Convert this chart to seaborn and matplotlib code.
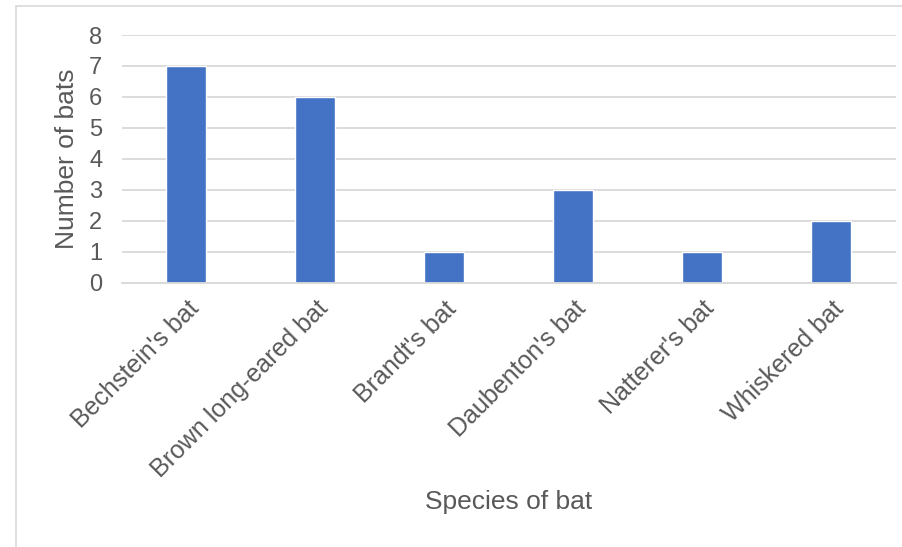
import matplotlib
matplotlib.use("Agg")
import matplotlib.pyplot as plt
import seaborn as sns
import pandas as pd
from matplotlib.lines import Line2D

species = ["Bechstein's bat", "Brown long-eared bat", "Brandt's bat",
           "Daubenton's bat", "Natterer's bat", "Whiskered bat"]
counts = [7, 6, 1, 3, 1, 2]
y_ticks = [0, 1, 2, 3, 4, 5, 6, 7, 8]

df = pd.DataFrame({"species": species, "count": counts})

sns.set_theme(style="white")
plt.rcParams["font.family"] = ["Liberation Sans", "DejaVu Sans"]

text_color = "#595959"
grid_color = "#D9D9D9"

fig = plt.figure(figsize=(9.03, 5.47), dpi=100)
ax = fig.add_axes([0.135, 0.483, 0.857, 0.453])

sns.barplot(data=df, x="species", y="count", color="#4472C4",
            width=0.31, saturation=1, ax=ax, zorder=3)

ax.set_ylim(0, 8)
ax.set_yticks(y_ticks)
ax.set_xlim(-0.5, len(species) - 0.5)
ax.yaxis.grid(True, color=grid_color, linewidth=1.3, zorder=0)
ax.set_axisbelow(True)
for side in ["top", "right", "left"]:
    ax.spines[side].set_visible(False)
ax.spines["bottom"].set_color(grid_color)
ax.spines["bottom"].set_linewidth(1.3)
ax.spines["bottom"].set_zorder(4)

ax.tick_params(axis="both", length=0, colors=text_color)
ax.tick_params(axis="y", pad=14, labelsize=17)
ax.tick_params(axis="x", pad=10, labelsize=18)
ax.set_xticks(range(len(species)))
ax.set_xticklabels(species, rotation=45, ha="right", rotation_mode="anchor")

ax.set_ylabel("Number of bats", fontsize=19, color=text_color)
ax.yaxis.set_label_coords(-0.056, 0.5)
ax.set_xlabel("Species of bat", fontsize=19, color=text_color)
ax.xaxis.set_label_coords(0.5, -0.835)

# chart frame edges
fig.add_artist(Line2D([0.018, 0.018], [0.0, 0.989], transform=fig.transFigure,
                      color=grid_color, linewidth=1.2))
fig.add_artist(Line2D([0.018, 1.0], [0.989, 0.989], transform=fig.transFigure,
                      color=grid_color, linewidth=1.2))

fig.savefig("out.png", dpi=100)
